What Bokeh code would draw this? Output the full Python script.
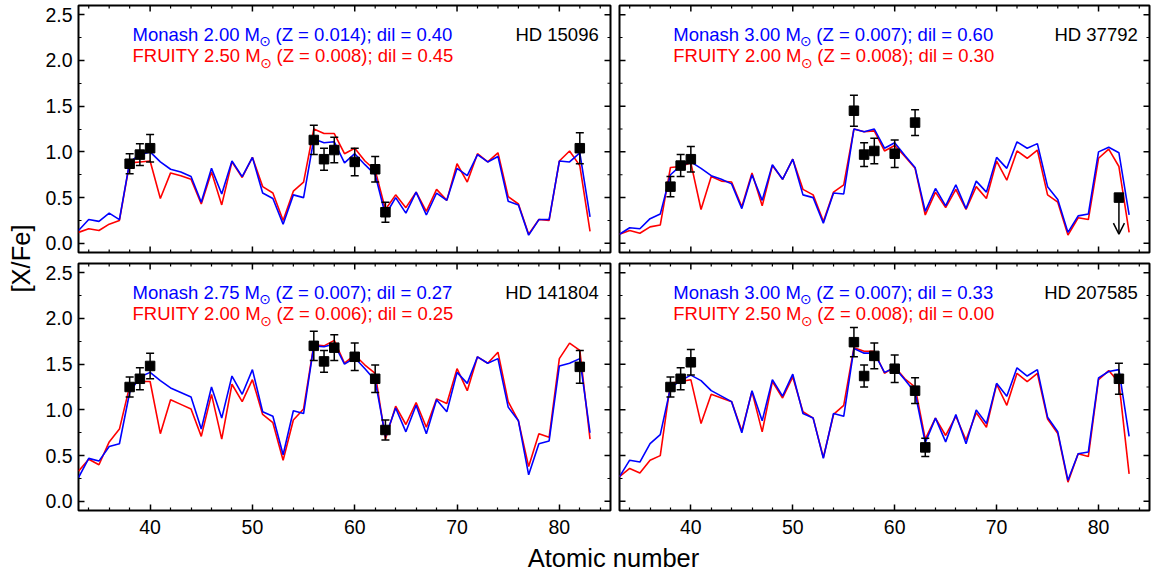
from bokeh.plotting import figure
from bokeh.layouts import row, column
from bokeh.models import (Range1d, FixedTicker, PrintfTickFormatter,
                          ColumnDataSource, Arrow, OpenHead)
from bokeh.core.properties import value
from bokeh.embed import file_html
from bokeh.resources import INLINE
import math

# ---------------- data ----------------
Z = [33, 34, 35, 36, 37, 38, 39, 40, 41, 42, 43, 44, 45, 46, 47, 48, 49, 50,
     51, 52, 53, 54, 55, 56, 57, 58, 59, 60, 61, 62, 63, 64, 65, 66, 67, 68,
     69, 70, 71, 72, 73, 74, 75, 76, 77, 78, 79, 80, 81, 82, 83]

star_names = ["HD 15096", "HD 37792", "HD 141804", "HD 207585"]
monash_labels = ["Monash 2.00 M", "Monash 3.00 M", "Monash 2.75 M", "Monash 3.00 M"]
monash_tails = ["(Z = 0.014); dil = 0.40", "(Z = 0.007); dil = 0.60",
                "(Z = 0.007); dil = 0.27", "(Z = 0.007); dil = 0.33"]
fruity_labels = ["FRUITY 2.50 M", "FRUITY 2.00 M", "FRUITY 2.00 M", "FRUITY 2.50 M"]
fruity_tails = ["(Z = 0.008); dil = 0.45", "(Z = 0.008); dil = 0.30",
                "(Z = 0.006); dil = 0.25", "(Z = 0.008); dil = 0.00"]

monash_hd15096 = [0.14, 0.26, 0.24, 0.33, 0.26, 0.89, 0.97, 1.00, 0.89, 0.81, 0.78, 0.73, 0.45,
                  0.82, 0.54, 0.90, 0.73, 0.94, 0.55, 0.49, 0.21, 0.53, 0.50, 1.14, 1.10, 1.11,
                  0.88, 0.98, 0.86, 0.75, 0.31, 0.50, 0.33, 0.56, 0.31, 0.55, 0.47, 0.82, 0.74,
                  0.97, 0.89, 0.95, 0.46, 0.42, 0.09, 0.26, 0.26, 0.90, 0.89, 0.99, 0.29]
fruity_hd15096 = [0.12, 0.16, 0.14, 0.21, 0.25, 0.88, 0.89, 0.90, 0.49, 0.77, 0.74, 0.70, 0.43,
                  0.78, 0.42, 0.89, 0.72, 0.94, 0.62, 0.55, 0.25, 0.57, 0.67, 1.25, 1.20, 1.20,
                  0.98, 1.04, 0.90, 0.80, 0.37, 0.53, 0.39, 0.56, 0.35, 0.59, 0.47, 0.87, 0.67,
                  0.98, 0.89, 0.99, 0.51, 0.43, 0.10, 0.26, 0.25, 0.90, 1.01, 0.85, 0.13]
obs_z_hd15096 = [38, 39, 40, 56, 57, 58, 60, 62, 63, 82]
obs_hd15096 = [0.87, 0.97, 1.04, 1.13, 0.92, 1.02, 0.89, 0.81, 0.34, 1.04]
err_hd15096 = [0.11, 0.12, 0.15, 0.16, 0.12, 0.14, 0.15, 0.14, 0.11, 0.17]

monash_hd37792 = [0.10, 0.17, 0.16, 0.27, 0.32, 0.75, 0.85, 0.89, 0.82, 0.74, 0.70, 0.65, 0.38,
                  0.75, 0.47, 0.86, 0.70, 0.92, 0.53, 0.50, 0.22, 0.55, 0.54, 1.25, 1.22, 1.25,
                  1.04, 1.10, 0.96, 0.83, 0.35, 0.60, 0.41, 0.64, 0.38, 0.68, 0.56, 0.94, 0.82,
                  1.11, 1.04, 1.09, 0.62, 0.48, 0.12, 0.30, 0.32, 1.00, 1.05, 0.99, 0.31]
fruity_hd37792 = [0.10, 0.14, 0.11, 0.18, 0.20, 0.83, 0.84, 0.88, 0.37, 0.73, 0.68, 0.67, 0.40,
                  0.77, 0.41, 0.85, 0.70, 0.92, 0.59, 0.53, 0.24, 0.56, 0.64, 1.25, 1.22, 1.23,
                  1.01, 1.07, 0.95, 0.82, 0.31, 0.56, 0.39, 0.59, 0.37, 0.62, 0.49, 0.90, 0.69,
                  1.01, 0.93, 1.02, 0.53, 0.45, 0.09, 0.28, 0.26, 0.93, 1.03, 0.84, 0.12]
obs_z_hd37792 = [38, 39, 40, 56, 57, 58, 60, 62]
obs_hd37792 = [0.62, 0.85, 0.92, 1.45, 0.97, 1.01, 0.98, 1.32]
err_hd37792 = [0.11, 0.12, 0.14, 0.17, 0.13, 0.14, 0.15, 0.14]
lim_z_hd37792 = [82]
lim_hd37792 = [0.50]
lim_end_hd37792 = [0.10]

monash_hd141804 = [0.26, 0.47, 0.44, 0.60, 0.63, 1.19, 1.36, 1.41, 1.32, 1.24, 1.19, 1.14, 0.79,
                   1.25, 0.91, 1.37, 1.17, 1.44, 0.98, 0.93, 0.51, 0.99, 0.96, 1.70, 1.69, 1.72,
                   1.50, 1.57, 1.45, 1.32, 0.71, 1.02, 0.76, 1.05, 0.74, 1.11, 0.98, 1.41, 1.29,
                   1.58, 1.51, 1.56, 1.03, 0.88, 0.29, 0.63, 0.66, 1.48, 1.51, 1.56, 0.75]
fruity_hd141804 = [0.33, 0.46, 0.40, 0.65, 0.79, 1.26, 1.31, 1.31, 0.74, 1.11, 1.06, 1.01, 0.71,
                   1.17, 0.68, 1.28, 1.09, 1.33, 0.95, 0.86, 0.45, 0.89, 1.01, 1.71, 1.70, 1.76,
                   1.51, 1.60, 1.49, 1.40, 0.68, 1.04, 0.84, 1.08, 0.81, 1.12, 1.07, 1.45, 1.21,
                   1.58, 1.51, 1.63, 1.09, 0.88, 0.38, 0.74, 0.70, 1.56, 1.73, 1.65, 0.68]
obs_z_hd141804 = [38, 39, 40, 56, 57, 58, 60, 62, 63, 82]
obs_hd141804 = [1.25, 1.34, 1.48, 1.70, 1.53, 1.68, 1.58, 1.34, 0.78, 1.47]
err_hd141804 = [0.11, 0.12, 0.14, 0.16, 0.12, 0.14, 0.15, 0.15, 0.11, 0.18]

monash_hd207585 = [0.27, 0.45, 0.43, 0.63, 0.73, 1.24, 1.32, 1.38, 1.32, 1.21, 1.15, 1.09, 0.75,
                   1.21, 0.88, 1.33, 1.15, 1.39, 0.96, 0.91, 0.47, 0.96, 0.93, 1.67, 1.62, 1.62,
                   1.41, 1.46, 1.33, 1.19, 0.64, 0.91, 0.65, 0.95, 0.63, 1.00, 0.85, 1.29, 1.15,
                   1.46, 1.37, 1.44, 0.92, 0.76, 0.23, 0.52, 0.54, 1.35, 1.42, 1.44, 0.71]
fruity_hd207585 = [0.27, 0.36, 0.31, 0.45, 0.50, 1.29, 1.31, 1.33, 0.85, 1.17, 1.13, 1.09, 0.77,
                   1.20, 0.76, 1.31, 1.13, 1.36, 0.98, 0.91, 0.48, 0.95, 1.05, 1.68, 1.64, 1.64,
                   1.40, 1.47, 1.34, 1.25, 0.68, 0.91, 0.72, 0.93, 0.67, 0.97, 0.81, 1.28, 1.05,
                   1.40, 1.31, 1.40, 0.90, 0.74, 0.21, 0.52, 0.49, 1.33, 1.43, 1.30, 0.30]
obs_z_hd207585 = [38, 39, 40, 56, 57, 58, 60, 62, 63, 82]
obs_hd207585 = [1.25, 1.34, 1.52, 1.74, 1.37, 1.59, 1.45, 1.21, 0.59, 1.34]
err_hd207585 = [0.11, 0.12, 0.14, 0.16, 0.12, 0.14, 0.15, 0.14, 0.10, 0.17]

x_major = [40, 50, 60, 70, 80]
x_minor = [34, 36, 38, 42, 44, 46, 48, 52, 54, 56, 58, 62, 64, 66, 68, 72, 74, 76, 78, 82, 84]
y_major = [0.0, 0.5, 1.0, 1.5, 2.0, 2.5]
y_minor = [0.25, 0.75, 1.25, 1.75, 2.25]

X_LO, X_HI = 33, 85
Y_LO, Y_HI = -0.1, 2.6

# ---------------- styling ----------------
FONT = "Liberation Sans"
BLUE = "#0000ff"
RED = "#ff0000"
TICK_FS = "19.5px"
ANN_FS = "18.5px"


def style_axis(ax, is_x, standoff):
    ax.ticker = FixedTicker(ticks=x_major if is_x else y_major,
                            minor_ticks=x_minor if is_x else y_minor)
    ax.axis_line_color = None
    ax.major_tick_in = 6
    ax.major_tick_out = 0
    ax.minor_tick_in = 3
    ax.minor_tick_out = 0
    ax.major_tick_line_width = 1.5
    ax.minor_tick_line_width = 1.2
    ax.major_tick_line_color = "black"
    ax.minor_tick_line_color = "black"
    ax.major_label_text_font = FONT
    ax.major_label_text_color = "black"
    ax.major_label_text_font_size = TICK_FS
    ax.major_label_standoff = standoff


def edge_ticks(p, side):
    """Inward ticks on an unlabelled frame side (markers centred on the edge,
    the outer half is clipped by the frame)."""
    if side in ("left", "right"):
        xe = X_LO if side == "left" else X_HI
        p.scatter(x=[xe] * len(y_major), y=y_major, marker="dash", size=12,
                  line_color="black", line_width=1.5)
        p.scatter(x=[xe] * len(y_minor), y=y_minor, marker="dash", size=6,
                  line_color="black", line_width=1.2)
    else:
        ye = Y_LO if side == "bottom" else Y_HI
        p.scatter(x=x_major, y=[ye] * len(x_major), marker="dash", size=12,
                  angle=math.pi / 2, line_color="black", line_width=1.5)
        p.scatter(x=x_minor, y=[ye] * len(x_minor), marker="dash", size=6,
                  angle=math.pi / 2, line_color="black", line_width=1.2)


def make_panel(idx, width, height, borders, show_xlab, show_ylab,
               monash, fruity, oz, ov, oe, lim=None):
    bl, br, bt, bb = borders
    p = figure(width=width, height=height, output_backend="svg", toolbar_location=None,
               x_range=Range1d(X_LO, X_HI), y_range=Range1d(Y_LO, Y_HI),
               x_axis_location="below" if show_xlab else None,
               y_axis_location="left" if show_ylab else None,
               min_border_left=bl, min_border_right=br, min_border_top=bt,
               min_border_bottom=bb)
    p.grid.visible = False
    p.outline_line_color = "black"
    p.outline_line_width = 2
    p.outline_line_alpha = 1.0
    p.background_fill_color = "white"
    p.border_fill_color = "white"

    if show_xlab:
        style_axis(p.xaxis[0], True, 9)
    else:
        edge_ticks(p, "bottom")
    if show_ylab:
        style_axis(p.yaxis[0], False, 6)
        p.yaxis[0].formatter = PrintfTickFormatter(format="%.1f")
    else:
        edge_ticks(p, "left")
    edge_ticks(p, "top")
    edge_ticks(p, "right")

    # model curves
    p.line(Z, fruity, line_color=RED, line_width=1.6)
    p.line(Z, monash, line_color=BLUE, line_width=1.6)

    # observations with error bars
    lo = [v - e for v, e in zip(ov, oe)]
    hi = [v + e for v, e in zip(ov, oe)]
    p.segment(x0=oz, y0=lo, x1=oz, y1=hi, line_color="black", line_width=1.5)
    p.scatter(x=oz + oz, y=lo + hi, marker="dash", size=8, line_color="black",
              line_width=1.5)
    p.scatter(x=oz, y=ov, marker="square", size=9.5, fill_color="black",
              line_color="black")

    if lim is not None:
        lz, lv, le = lim
        src = ColumnDataSource(dict(x=lz, y0=lv, y1=le))
        p.add_layout(Arrow(end=OpenHead(size=11, line_width=1.5, line_color="black"),
                           x_start="x", y_start="y0", x_end="x", y_end="y1",
                           source=src, line_color="black", line_width=1.5))
        p.scatter(x=lz, y=lv, marker="square", size=9.5, fill_color="black",
                  line_color="black")

    # annotations
    tx = 38.28
    yb = 2.285
    yr = 2.05
    for (lab, tail, yy, col, sun_off, tail_off) in (
            (monash_labels[idx], monash_tails[idx], yb, BLUE, 132.5, 143),
            (fruity_labels[idx], fruity_tails[idx], yr, RED, 133.5, 144)):
        p.text(x=[tx], y=[yy], text=[lab], text_color=col, text_font=value(FONT),
               text_font_size=ANN_FS, text_baseline="alphabetic", text_align="left")
        p.text(x=[tx], y=[yy - 0.078], text=["\u2299"], text_color=col,
               text_font=value("DejaVu Sans"), text_font_size="14px",
               text_baseline="middle", text_align="center", x_offset=sun_off)
        p.text(x=[tx], y=[yy], text=[tail], text_color=col, text_font=value(FONT),
               text_font_size=ANN_FS, text_baseline="alphabetic", text_align="left",
               x_offset=tail_off)
    p.text(x=[83.85], y=[yb], text=[star_names[idx]], text_color="black",
           text_font=value(FONT), text_font_size=ANN_FS, text_baseline="alphabetic",
           text_align="right")
    return p


f1 = make_panel(0, 578, 257, (42, 4, 5, 5), False, True,
                monash_hd15096, fruity_hd15096, obs_z_hd15096, obs_hd15096, err_hd15096)
f2 = make_panel(1, 538, 257, (5, 3, 5, 5), False, False,
                monash_hd37792, fruity_hd37792, obs_z_hd37792, obs_hd37792, err_hd37792,
                lim=(lim_z_hd37792, lim_hd37792, lim_end_hd37792))
f3 = make_panel(2, 578, 284, (42, 4, 6, 31), True, True,
                monash_hd141804, fruity_hd141804, obs_z_hd141804, obs_hd141804, err_hd141804)
f4 = make_panel(3, 538, 284, (5, 3, 6, 31), True, False,
                monash_hd207585, fruity_hd207585, obs_z_hd207585, obs_hd207585, err_hd207585)


def blank(width, height):
    p = figure(width=width, height=height, output_backend="svg", toolbar_location=None,
               x_range=Range1d(0, width), y_range=Range1d(0, height),
               x_axis_location=None, y_axis_location=None, min_border=0)
    p.grid.visible = False
    p.outline_line_color = None
    return p


xfig = blank(1116, 36)
xfig.text(x=[577], y=[19.2], text=["Atomic number"], text_font=value(FONT),
          text_font_size="25.5px", text_align="center", text_baseline="middle",
          text_color="black")

yfig = blank(36, 577)
yfig.text(x=[20.5], y=[319], text=["[X/Fe]"], text_font=value(FONT),
          text_font_size="25.5px", text_align="center", text_baseline="middle",
          angle=math.pi / 2, text_color="black")

layout = row(yfig, column(row(f1, f2), row(f3, f4), xfig))

open("out.html", "w").write(file_html(layout, INLINE))
